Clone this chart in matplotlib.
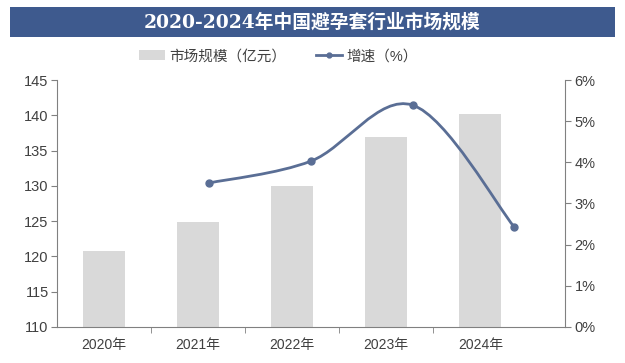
import matplotlib.pyplot as plt
from matplotlib.path import Path
from matplotlib.patches import PathPatch, Rectangle
from matplotlib.ticker import FuncFormatter

plt.rcParams['font.family'] = ['Liberation Sans', 'Noto Sans CJK SC', 'DejaVu Sans']

years = ['2020年', '2021年', '2022年', '2023年', '2024年']
market = [120.8, 124.9, 130.0, 136.9, 140.2]
growth_years = [1, 2, 3, 4]
growth = [3.5, 4.03, 5.39, 2.43]

bar_color = '#D9D9D9'
line_color = '#5A6E95'
text_color = '#404040'

fig = plt.figure(figsize=(6.25, 3.63), dpi=100)
pos = [0.0912, 0.0992, 0.8128, 0.6804]

# title band
fig.patches.append(Rectangle((0.016, 0.898), 0.968, 0.083, transform=fig.transFigure,
                             facecolor='#3E5A8E', edgecolor='none'))
fig.text(0.5, 0.939, '2020-2024年中国避孕套行业市场规模', ha='center', va='center',
         color='white', fontsize=13.5, fontweight='bold',
         family=['DejaVu Serif', 'Noto Sans CJK SC'])

ax = fig.add_axes(pos)
x = list(range(len(years)))
ax.bar(x, market, width=0.45, color=bar_color, zorder=2)
ax.set_xlim(-0.5, 4.9)
ax.set_ylim(110, 145)
ax.set_yticks(range(110, 146, 5))
ax.set_xticks(x)
ax.set_xticklabels(years)
ax.set_xticks([i + 0.5 for i in range(4)], minor=True)
ax.tick_params(axis='x', which='major', length=0, pad=8, labelsize=10, colors=text_color)
ax.tick_params(axis='x', which='minor', length=4, color='#808080')
ax.tick_params(axis='y', length=4, color='#808080', labelsize=10.5, labelcolor=text_color, pad=2)
for s in ['top', 'right']:
    ax.spines[s].set_visible(False)
for s in ['left', 'bottom']:
    ax.spines[s].set_color('#808080')

# growth line on its own axes (spans the full width)
ax2 = fig.add_axes(pos, facecolor='none')
ax2.set_xlim(-0.5, 4.5)
ax2.set_ylim(0, 6)
ax2.set_xticks([])
ax2.yaxis.tick_right()
ax2.set_yticks(range(0, 7))
ax2.yaxis.set_major_formatter(FuncFormatter(lambda v, p: f'{int(v)}%'))
ax2.tick_params(axis='y', length=4, color='#808080', labelsize=10.5, labelcolor=text_color, pad=3)
for s in ['top', 'left', 'bottom']:
    ax2.spines[s].set_visible(False)
ax2.spines['right'].set_color('#808080')

# smooth curve through the points (cubic bezier, catmull-rom style)
pts = list(zip(growth_years, growth))
verts = [pts[0]]
codes = [Path.MOVETO]
for i in range(len(pts) - 1):
    p0 = pts[i - 1] if i > 0 else pts[i]
    p1 = pts[i]
    p2 = pts[i + 1]
    p3 = pts[i + 2] if i + 2 < len(pts) else pts[i + 1]
    c1 = (p1[0] + (p2[0] - p0[0]) / 6, p1[1] + (p2[1] - p0[1]) / 6)
    c2 = (p2[0] - (p3[0] - p1[0]) / 6, p2[1] - (p3[1] - p1[1]) / 6)
    verts += [c1, c2, p2]
    codes += [Path.CURVE4] * 3
ax2.add_patch(PathPatch(Path(verts, codes), facecolor='none', edgecolor=line_color,
                        linewidth=2.0, zorder=3))
ax2.plot(growth_years, growth, 'o', color=line_color, markersize=5, zorder=4)

# legend
h1 = Rectangle((0, 0), 1, 1, facecolor=bar_color, edgecolor='none')
h2, = ax2.plot([], [], '-o', color=line_color, linewidth=2, markersize=3.5)
fig.legend([h1, h2], ['市场规模（亿元）', '增速（%）'], loc='center', ncol=2,
           bbox_to_anchor=(0.445, 0.845), frameon=False, fontsize=10.5,
           handlelength=1.8, handletextpad=0.3, columnspacing=2.0, labelcolor=text_color)

fig.savefig('out.png', dpi=100)
